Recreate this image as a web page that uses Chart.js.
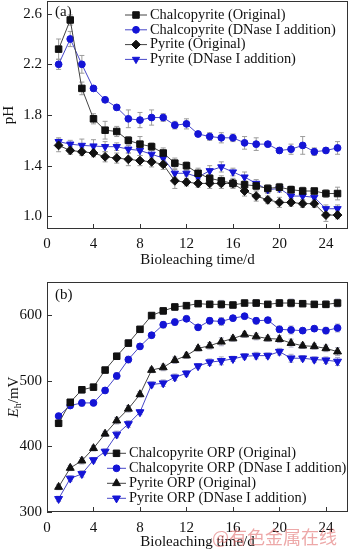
<!DOCTYPE html>
<html>
<head>
<meta charset="utf-8">
<script src="https://cdn.jsdelivr.net/npm/chart.js"></script>
<style>
  body { margin: 0; background: #fff; width: 350px; height: 551px; overflow: hidden; position: relative; }
  #phBox { position: absolute; left: 0; top: 0; width: 350px; height: 270px; }
  #orpBox { position: absolute; left: 0; top: 270px; width: 350px; height: 281px; }
  #mark { position: absolute; left: 212px; top: 523px; font: 18px "Noto Sans CJK SC"; color: rgba(225, 110, 110, 0.6); white-space: nowrap; }
</style>
</head>
<body>
<div id="phBox"><canvas id="ph" width="350" height="270"></canvas></div>
<div id="orpBox"><canvas id="orp" width="350" height="281"></canvas></div>
<div id="mark">@有色金属在线</div>

<script>
    // days of bioleaching
    const days = [1,2,3,4,5,6,7,8,9,10,11,12,13,14,15,16,17,18,19,20,21,22,23,24,25];
    const xTicks = [0, 4, 8, 12, 16, 20, 24];

    // panel (a) pH
    const phLabels = ['Chalcopyrite (Original)', 'Chalcopyrite (DNase I addition)', 'Pyrite (Original)', 'Pyrite (DNase I addition)'];
    const phChalco = [2.32,2.55,2.01,1.77,1.68,1.67,1.60,1.57,1.55,1.50,1.42,1.40,1.34,1.30,1.28,1.26,1.25,1.24,1.22,1.23,1.21,1.20,1.20,1.18,1.18];
    const phChalcoDN = [2.20,2.40,2.20,2.01,1.92,1.86,1.77,1.76,1.78,1.78,1.72,1.73,1.65,1.63,1.62,1.62,1.58,1.57,1.57,1.52,1.53,1.56,1.51,1.52,1.54];
    const phPyrite = [1.56,1.52,1.51,1.50,1.47,1.46,1.45,1.44,1.43,1.41,1.28,1.27,1.26,1.26,1.26,1.26,1.20,1.16,1.13,1.11,1.11,1.10,1.10,1.01,1.01];
    const phPyriteDN = [1.59,1.57,1.56,1.555,1.55,1.55,1.53,1.52,1.49,1.46,1.34,1.34,1.31,1.36,1.39,1.35,1.31,1.26,1.21,1.22,1.16,1.16,1.15,1.06,1.06];
    const phErrChalco = [0.08,0.04,0.05,0.04,0.07,0.04,0.03,0.06,0.03,0.04,0.04,0.03,0.04,0.03,0.04,0.03,0.03,0.03,0.03,0.03,0.03,0.03,0.02,0.03,0.05];
    const phErrChalcoDN = [0.04,0.06,0.07,0.02,0.02,0.02,0.07,0.06,0.06,0.03,0.03,0.04,0.02,0.03,0.04,0.03,0.05,0.05,0.02,0.02,0.04,0.07,0.03,0.02,0.05];
    const phErrPyrite = [0.05,0.03,0.03,0.03,0.04,0.04,0.05,0.04,0.04,0.04,0.06,0.03,0.03,0.04,0.04,0.04,0.04,0.04,0.03,0.04,0.03,0.03,0.03,0.05,0.03];
    const phErrPyriteDN = [0.03,0.03,0.05,0.05,0.04,0.03,0.03,0.04,0.03,0.03,0.03,0.02,0.04,0.04,0.04,0.03,0.04,0.03,0.03,0.03,0.03,0.03,0.03,0.03,0.03];
    const phTicks = [1.0, 1.4, 1.8, 2.2, 2.6];

    // panel (b) ORP
    const orpLabels = ['Chalcopyrite ORP (Original)', 'Chalcopyrite ORP (DNase I addition)', 'Pyrite ORP (Original)', 'Pyrite ORP (DNase I addition)'];
    const orpChalco = [435,467,486,490,516,537,557,578,599,606,612,614,617,616,616,615,618,618,616,618,618,617,616,616,618];
    const orpChalcoDN = [446,462,466,466,485,507,532,552,569,585,589,594,581,591,590,595,598,591,592,578,577,576,579,576,580];
    const orpPyrite = [338,367,378,397,419,439,457,479,516,520,531,538,549,553,559,564,570,567,564,563,557,553,552,549,544];
    const orpPyriteDN = [320,351,358,379,392,418,434,452,494,496,505,511,522,528,530,533,537,538,538,544,534,534,532,531,529];
    const orpErr = [4,4,5,4,4,5,5,4,4,5,5,4,4,5,6,4,4,5,4,5,6,4,4,5,6];
    const orpTicks = [300, 400, 500, 600];

    Chart.defaults.font.family = '"Liberation Serif", "Times New Roman", serif';
    Chart.defaults.font.size = 15;
    Chart.defaults.color = '#111';

    const black = '#111';
    const blackLine = '#444';
    const blue = '#1414d6';
    const blueLine = '#4646c8';

    function series(label, vals, color, line, style, radius, rot) {
        return {
            label: label,
            data: days.map((d, i) => ({x: d, y: vals[i]})),
            borderColor: line,
            borderWidth: 1,
            backgroundColor: color,
            pointBackgroundColor: color,
            pointBorderColor: color,
            pointStyle: style,
            pointRadius: radius,
            pointRotation: rot || 0,
            tension: 0
        };
    }

    // error bars, ticks inside the frame, legend with line samples, panel letter
    const decor = {
        id: 'decor',
        beforeDatasetsDraw(chart) {
            const o = chart.options.plugins.decor;
            const ctx = chart.ctx, xs = chart.scales.x, ys = chart.scales.y;
            ctx.save();
            ctx.strokeStyle = o.errColor;
            ctx.lineWidth = 1;
            chart.data.datasets.forEach((ds, i) => {
                const err = o.errors[i];
                ds.data.forEach((p, j) => {
                    const px = xs.getPixelForValue(p.x);
                    const t = ys.getPixelForValue(p.y + err[j]);
                    const b = ys.getPixelForValue(p.y - err[j]);
                    ctx.beginPath();
                    ctx.moveTo(px, t); ctx.lineTo(px, b);
                    ctx.moveTo(px - 2.5, t); ctx.lineTo(px + 2.5, t);
                    ctx.moveTo(px - 2.5, b); ctx.lineTo(px + 2.5, b);
                    ctx.stroke();
                });
            });
            ctx.restore();
        },
        afterDraw(chart) {
            const o = chart.options.plugins.decor;
            const ctx = chart.ctx, a = chart.chartArea, xs = chart.scales.x, ys = chart.scales.y;
            ctx.save();
            ctx.strokeStyle = '#333';
            ctx.lineWidth = 1;
            ctx.strokeRect(a.left + 0.5, a.top + 0.5, a.right - a.left - 1, a.bottom - a.top - 1);
            ctx.beginPath();
            xs.ticks.forEach(t => {
                const px = Math.round(xs.getPixelForValue(t.value)) + 0.5;
                ctx.moveTo(px, a.bottom); ctx.lineTo(px, a.bottom - 5);
            });
            ys.ticks.forEach(t => {
                const py = Math.round(ys.getPixelForValue(t.value)) + 0.5;
                ctx.moveTo(a.left, py); ctx.lineTo(a.left + 5, py);
            });
            ctx.stroke();

            // legend
            const lg = o.legend;
            ctx.font = '14.4px "Liberation Serif"';
            ctx.textBaseline = 'middle';
            chart.data.datasets.forEach((ds, i) => {
                const yy = lg.y + i * lg.gap;
                ctx.strokeStyle = ds.borderColor;
                ctx.beginPath();
                ctx.moveTo(lg.x, yy); ctx.lineTo(lg.x + lg.len, yy);
                ctx.stroke();
                ctx.fillStyle = ds.pointBackgroundColor;
                ctx.strokeStyle = ds.pointBorderColor;
                Chart.helpers.drawPoint(ctx, {pointStyle: ds.pointStyle, radius: ds.pointRadius, rotation: ds.pointRotation, borderWidth: 1}, lg.x + lg.len / 2, yy);
                ctx.fillStyle = '#111';
                ctx.fillText(ds.label, lg.x + lg.len + 3, yy);
            });

            // panel letter
            ctx.font = '15px "Liberation Serif"';
            ctx.fillStyle = '#111';
            ctx.fillText(o.letter, a.left + 8, a.top + o.letterY);

            // rotated y title with subscript
            if (o.ehTitle) {
                const cy = (a.top + a.bottom) / 2;
                ctx.translate(13, cy);
                ctx.rotate(-Math.PI / 2);
                ctx.textBaseline = 'alphabetic';
                const fE = 'italic 15px "Liberation Serif"', fh = '10px "Liberation Serif"', fm = '15px "Liberation Serif"';
                ctx.font = fE; const wE = ctx.measureText('E').width;
                ctx.font = fh; const wh = ctx.measureText('h').width;
                ctx.font = fm; const wm = ctx.measureText('/mV').width;
                let x0 = -(wE + wh + wm) / 2;
                ctx.font = fE; ctx.fillText('E', x0, 5); x0 += wE;
                ctx.font = fh; ctx.fillText('h', x0, 8); x0 += wh;
                ctx.font = fm; ctx.fillText('/mV', x0, 5);
            }
            ctx.restore();
        }
    };

    function xScale(h, pad, titlePad) {
        return {
            type: 'linear', min: 0, max: 25.9,
            grid: {display: false, drawTicks: false},
            border: {display: false},
            afterBuildTicks: s => { s.ticks = xTicks.map(v => ({value: v})); },
            afterFit: s => { s.height = h; s.paddingLeft = 0; s.paddingRight = 0; },
            ticks: {padding: pad, maxRotation: 0, color: '#111'},
            title: {display: true, text: 'Bioleaching time/d', padding: {top: 0, bottom: titlePad}, color: '#111'}
        };
    }

    function yScale(min, max, vals, fmt, title) {
        return {
            min: min, max: max,
            grid: {display: false, drawTicks: false}, border: {display: false},
            afterBuildTicks: s => { s.ticks = vals.map(v => ({value: v})); },
            afterFit: s => { s.width = 47; s.paddingTop = 0; s.paddingBottom = 0; },
            ticks: {padding: 5, callback: fmt, color: '#111'},
            title: title ? {display: true, text: title, padding: {top: 0, bottom: 3}, color: '#111'} : {display: false}
        };
    }

    const phChart = new Chart(document.getElementById('ph'), {
        type: 'line',
        data: {
            datasets: [
                series(phLabels[0], phChalco, black, blackLine, 'rect', 4.6),
                series(phLabels[1], phChalcoDN, blue, blueLine, 'circle', 3.4),
                series(phLabels[2], phPyrite, black, blackLine, 'rectRot', 4.4),
                series(phLabels[3], phPyriteDN, blue, blueLine, 'triangle', 4.2, 180)
            ]
        },
        options: {
            responsive: false, devicePixelRatio: 1, animation: false,
            layout: {autoPadding: false, padding: {left: 0, right: 2, top: 1, bottom: 0}},
            plugins: {
                legend: {display: false}, tooltip: {enabled: false},
                decor: {errors: [phErrChalco, phErrChalcoDN, phErrPyrite, phErrPyriteDN], errColor: '#9c9c9c',
                        legend: {x: 125, y: 15, gap: 14.8, len: 22}, letter: '(a)', letterY: 11}
            },
            scales: {
                x: xScale(41, 6, 1),
                y: yScale(0.9, 2.7, phTicks, v => v.toFixed(1), 'pH')
            }
        },
        plugins: [decor]
    });

    const orpChart = new Chart(document.getElementById('orp'), {
        type: 'line',
        data: {
            datasets: [
                series(orpLabels[0], orpChalco, black, blackLine, 'rect', 4.6),
                series(orpLabels[1], orpChalcoDN, blue, blueLine, 'circle', 3.4),
                series(orpLabels[2], orpPyrite, black, blackLine, 'triangle', 4.6),
                series(orpLabels[3], orpPyriteDN, blue, blueLine, 'triangle', 4.6, 180)
            ]
        },
        options: {
            responsive: false, devicePixelRatio: 1, animation: false,
            layout: {autoPadding: false, padding: {left: 0, right: 2, top: 12, bottom: 0}},
            plugins: {
                legend: {display: false}, tooltip: {enabled: false},
                decor: {errors: [orpErr, orpErr, orpErr, orpErr], errColor: '#a8a8c0',
                        legend: {x: 107, y: 183.3, gap: 15, len: 19}, letter: '(b)', letterY: 13, ehTitle: true}
            },
            scales: {
                x: xScale(39, 7, 0),
                y: yScale(300, 650, orpTicks, v => String(v), null)
            }
        },
        plugins: [decor]
    });
</script>
</body>
</html>
